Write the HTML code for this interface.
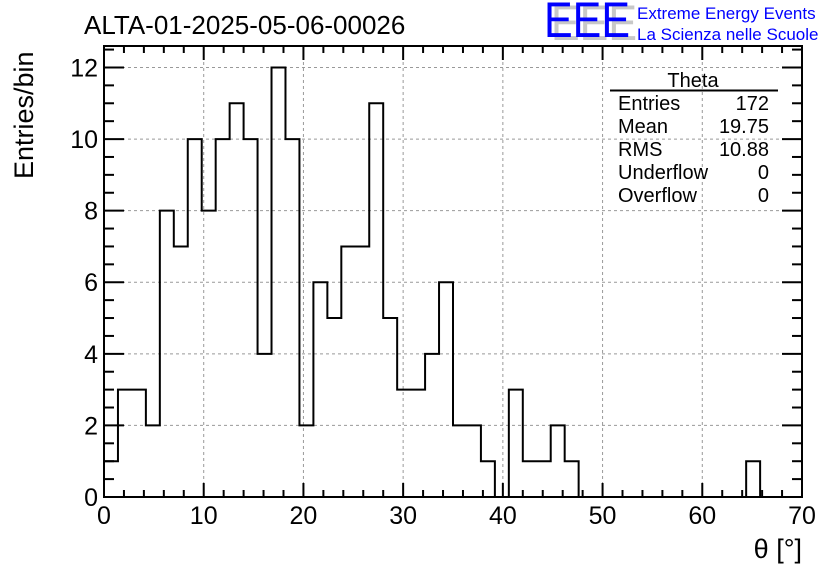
<!DOCTYPE html>
<html><head><meta charset="utf-8"><style>
body{margin:0;background:#fff;}
svg{display:block;font-family:"Liberation Sans",sans-serif;}
</style></head><body>
<svg id="c" width="836" height="572" xmlns="http://www.w3.org/2000/svg">
<rect width="836" height="572" fill="#fff"/>
<text x="84" y="34" font-size="26">ALTA-01-2025-05-06-00026</text>
<g>
<text x="551" y="40" font-size="50" fill="#c8c8c8" textLength="86" lengthAdjust="spacingAndGlyphs">EEE</text>
<text x="544" y="37" font-size="50" fill="#0000ff" textLength="86" lengthAdjust="spacingAndGlyphs">EEE</text>
<text x="637" y="19" font-size="17" fill="#0000ff">Extreme Energy Events</text>
<text x="637" y="40" font-size="17" fill="#0000ff">La Scienza nelle Scuole</text>
</g>
<g id="grid"></g>
<g id="axes"></g>
<path id="hist" fill="none" stroke="#000" stroke-width="2"/>
<g font-size="20">
<text x="693" y="87" text-anchor="middle">Theta</text>
<line x1="610" y1="90.5" x2="778" y2="90.5" stroke="#000" stroke-width="2"/>
<text x="618" y="110">Entries</text><text x="769" y="110" text-anchor="end">172</text>
<text x="618" y="133">Mean</text><text x="769" y="133" text-anchor="end">19.75</text>
<text x="618" y="156">RMS</text><text x="769" y="156" text-anchor="end">10.88</text>
<text x="618" y="179">Underflow</text><text x="769" y="179" text-anchor="end">0</text>
<text x="618" y="202">Overflow</text><text x="769" y="202" text-anchor="end">0</text>
</g>
<text x="802" y="558" font-size="27" text-anchor="end">θ [°]</text>
<text transform="translate(33,179) rotate(-90)" font-size="27">Entries/bin</text>
</svg>
<script>
const counts=[1,3,3,2,8,7,10,8,10,11,10,4,12,10,2,6,5,7,7,11,5,3,3,4,6,2,2,1,0,3,1,1,2,1,0,0,0,0,0,0,0,0,0,0,0,0,1,0,0,0];
const binWidth=[1.4];
const xTicks=[0,10,20,30,40,50,60,70];
const yTicks=[0,2,4,6,8,10,12];
const X0=104,X1=802,Y0=497,Y1=46,XMAX=70,YMAX=12.6;
const xs=v=>X0+(X1-X0)*v/XMAX;
const ys=v=>Y0-(Y0-Y1)*v/YMAX;
const NS="http://www.w3.org/2000/svg";
function mk(tag,attrs,parent){const e=document.createElementNS(NS,tag);for(const k in attrs)e.setAttribute(k,attrs[k]);parent.appendChild(e);return e;}
const grid=document.getElementById('grid'),axes=document.getElementById('axes');
xTicks.forEach(t=>{if(t>0&&t<70){const l=mk('line',{x1:xs(t),x2:xs(t),y1:Y0,y2:Y1,stroke:'#999','stroke-dasharray':'3,3'},grid);

}});
yTicks.forEach(t=>{if(t>0){const l=mk('line',{x1:X0,x2:X1,y1:ys(t),y2:ys(t),stroke:'#999','stroke-dasharray':'3,3'},grid);

}});
const fr=mk('rect',{x:X0,y:Y1,width:X1-X0,height:Y0-Y1,fill:'none',stroke:'#000','stroke-width':2},axes);


for(let v=0;v<=70;v+=2){const maj=v%10===0,L=maj?14:7;
mk('line',{x1:xs(v),x2:xs(v),y1:Y0,y2:Y0-L,stroke:'#000','stroke-width':2},axes);
mk('line',{x1:xs(v),x2:xs(v),y1:Y1,y2:Y1+L,stroke:'#000','stroke-width':2},axes);}
for(let v=0;v<=12.5;v+=0.5){const maj=v%2===0,L=maj?20:10;
mk('line',{x1:X0,x2:X0+L,y1:ys(v),y2:ys(v),stroke:'#000','stroke-width':2},axes);
mk('line',{x1:X1,x2:X1-L,y1:ys(v),y2:ys(v),stroke:'#000','stroke-width':2},axes);}
xTicks.forEach(t=>{const e=mk('text',{x:xs(t),y:524,'font-size':25,'text-anchor':'middle'},axes);e.textContent=t;

});
yTicks.forEach(t=>{const e=mk('text',{x:98,y:ys(t)+9,'font-size':25,'text-anchor':'end'},axes);e.textContent=t;

});
const bw=binWidth[0];
let d='',open=false;
counts.forEach((c,i)=>{const xa=xs(i*bw),xb=xs((i+1)*bw),y=ys(c);
if(c>0){if(!open){d+=`M${xa},${Y0}`;open=true;}d+=`V${y}H${xb}`;}
else if(open){d+=`V${Y0}`;open=false;}});
if(open)d+=`V${Y0}`;
document.getElementById('hist').setAttribute('d',d);
</script>
</body></html>
